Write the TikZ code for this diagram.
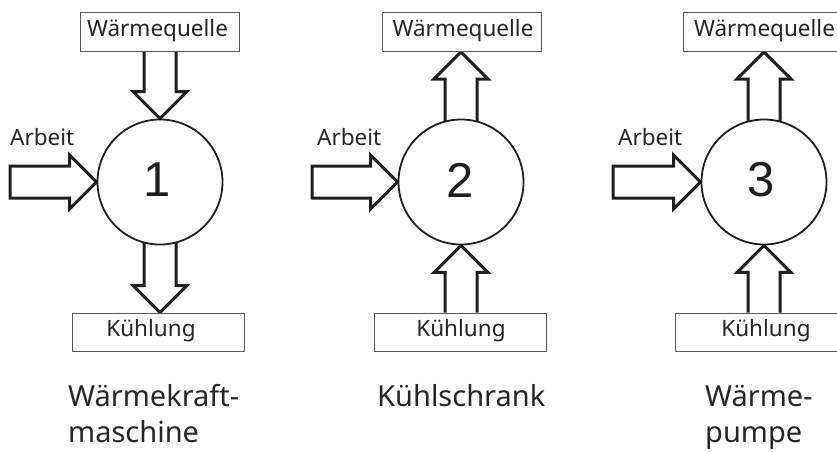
\documentclass[tikz,border=0pt]{standalone}
\usepackage{fontspec}
\setmainfont{Noto Sans}
\newfontfamily\digitfont{Liberation Sans}
\usetikzlibrary{calc,backgrounds}

% block arrow from tail #2 to tip #3; #1 = extra options (e.g. closed tail)
\newcommand\blockarrow[3][]{%
  \path ($(#3)!27pt!(#2)$) coordinate (hd);
  \filldraw[blk]
    ($(#2)!16pt!90:(#3)$) -- ($(hd)!16pt!90:(#3)$) -- ($(hd)!27pt!90:(#3)$)
    -- (#3)
    -- ($(hd)!27pt!-90:(#3)$) -- ($(hd)!16pt!-90:(#3)$) -- ($(#2)!16pt!-90:(#3)$) #1;
}

\tikzset{
  x=1pt, y=-1pt,
  blk/.style={line width=3pt, draw=black!88, fill=white, line join=miter},
  proc/.style={circle, draw=black!88, fill=white, line width=1.8pt,
    minimum size=125pt, inner sep=0pt},
  digit/.style={font=\digitfont\fontsize{49}{49}\selectfont, text=black!88, inner sep=0pt},
  box/.style={draw=black!65, fill=white, line width=1pt, minimum height=39pt, inner sep=0pt},
  boxtext/.style={font=\fontsize{22.5}{24}\selectfont, text=black!85, inner sep=0pt},
  arbeit/.style={font=\fontsize{22.5}{24}\selectfont, text=black!85, inner sep=0pt, anchor=base west},
  caption/.style={font=\fontsize{29}{32}\selectfont, text=black!85, inner sep=0pt, anchor=base west},
}

\begin{document}
\begin{tikzpicture}
  \useasboundingbox (0,0) rectangle (837,451);

  % processes
  \node[proc] (c1) at (160,182) {};
  \node[proc] (c2) at (461,182) {};
  \node[proc] (c3) at (764,182) {};
  \node[digit] (d1) at (157,180) {1};
  \node[digit] (d2) at (460,180) {2};
  \node[digit] (d3) at (761,180) {3};

  % heat source boxes
  \node[box, minimum width=159pt] (q1) at (159.5,32) {};
  \node[box, minimum width=159pt] (q2) at (461.5,32) {};
  \node[box, minimum width=163pt] (q3) at (764.5,32) {};
  \node[boxtext] (q1t) at (157.5,31) {Wärmequelle};
  \node[boxtext] (q2t) at (463,31) {Wärmequelle};
  \node[boxtext] (q3t) at (764.5,31) {Wärmequelle};

  % cooling boxes
  \node[box, minimum width=172pt, minimum height=38pt] (k1) at (158,332) {};
  \node[box, minimum width=172pt, minimum height=38pt] (k2) at (460,332) {};
  \node[box, minimum width=182pt, minimum height=38pt] (k3) at (766,332) {};
  \node[boxtext] (k1t) at (151,331) {Kühlung};
  \node[boxtext] (k2t) at (461,331) {Kühlung};
  \node[boxtext] (k3t) at (766,331) {Kühlung};

  % work inputs
  \coordinate (a1) at (10,182);
  \coordinate (a2) at (312,182);
  \coordinate (a3) at (613,182);
  \node[arbeit] (w1) at (10,145) {Arbeit};
  \node[arbeit] (w2) at (317,145) {Arbeit};
  \node[arbeit] (w3) at (618,145) {Arbeit};

  % captions
  \node[caption] (n1a) at (68,406) {Wärmekraft-};
  \node[caption] (n1b) at (68,442) {maschine};
  \node[caption] (n2) at (377,406) {Kühlschrank};
  \node[caption] (n3a) at (705,406) {Wärme-};
  \node[caption] (n3b) at (705,442) {pumpe};

  \begin{scope}[on background layer]
    % 1: heat engine
    \blockarrow{c1.north |- q1.south}{c1.north}
    \blockarrow{c1.center}{c1.south |- k1.north}
    \blockarrow[-- cycle]{a1}{c1.west}
    % 2: refrigerator
    \blockarrow{c2.center}{c2.north |- q2.south}
    \blockarrow{c2.south |- k2.north}{c2.south}
    \blockarrow[-- cycle]{a2}{c2.west}
    % 3: heat pump
    \blockarrow{c3.center}{c3.north |- q3.south}
    \blockarrow{c3.south |- k3.north}{c3.south}
    \blockarrow[-- cycle]{a3}{c3.west}
  \end{scope}
\end{tikzpicture}
\end{document}
